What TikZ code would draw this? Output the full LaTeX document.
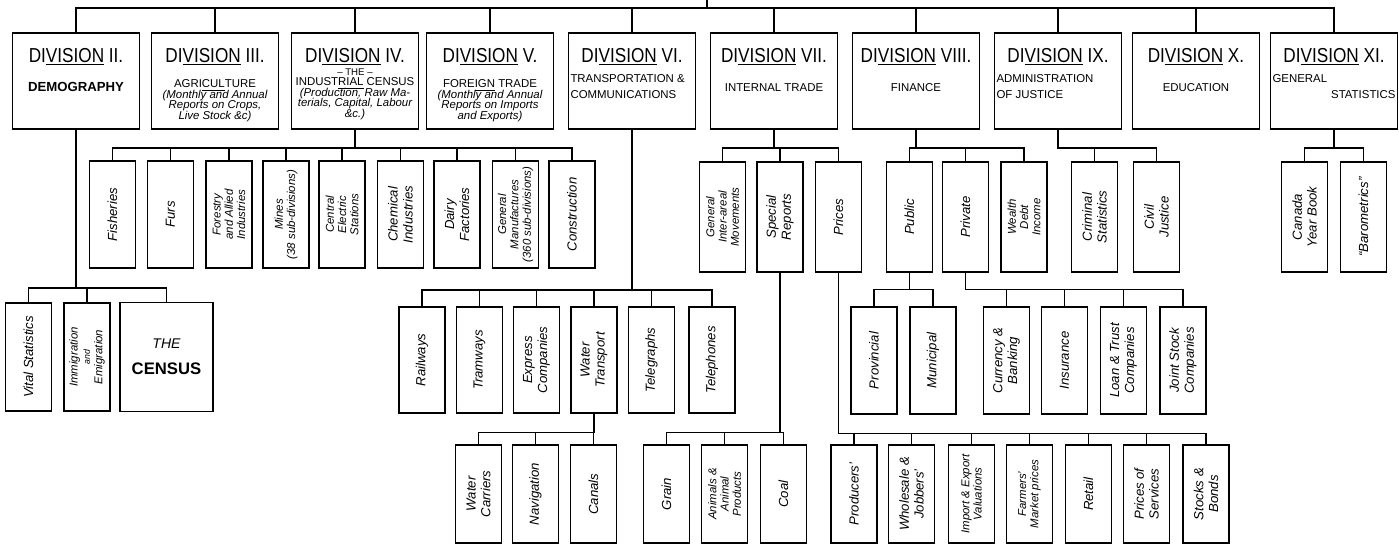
\documentclass[tikz,border=0pt]{standalone}
\usepackage{fontspec}
\setmainfont{Liberation Sans}
\newfontfamily\titlefont[FakeStretch=0.85]{Liberation Sans}
\usepackage{xcolor}

\newcommand{\divlabel}[3]{%
  \begin{minipage}[c][1.86cm][t]{2.46cm}\centering\lineskiplimit=-1cm
    \vspace*{0.27cm}{\titlefont\fontsize{11.5}{12}\selectfont DI\underline{VISION} #1\par}%
    \vspace{#2}{\fontsize{6.5}{0.21cm}\selectfont #3\par}%
  \end{minipage}}

\begin{document}
\begin{tikzpicture}[x=0.02cm, y=-0.02cm,
  division/.style={draw, line width=1pt, minimum width=2.54cm, minimum height=1.92cm, inner sep=0pt},
  sub/.style={draw, line width=0.9pt, rotate=90, minimum width=#1, minimum height=0.92cm, inner sep=1pt, align=center,
    font=\itshape\fontsize{7.5}{8.5}\selectfont},
  sub/.default=2.2cm,
  dense/.style={font=\itshape\fontsize{6.5}{7}\selectfont},
  link/.style={line width=0.8pt}
]
  \useasboundingbox (0,0) rectangle (1399,545);

  \node[division] (d2) at (76,81) {\divlabel{II.}{0.37cm}{\textbf{\fontsize{7.5}{0.21cm}\selectfont DEMOGRAPHY}}};
  \node[division] (d3) at (215,81) {\divlabel{III.}{0.3cm}{AGRI\underline{CUL}TURE\\{\itshape (Monthly and Annual\\Reports on Crops,\\Live Stock \&c)}}};
  \node[division] (d4) at (355,81) {\divlabel{IV.}{0.05cm}{{\fontsize{5.5}{0.21cm}\selectfont -- THE --}\\INDUST\underline{RIAL} CENSUS\\{\itshape (Production, Raw Ma-\\terials, Capital, Labour\\\&c.)}}};
  \node[division] (d5) at (490,81) {\divlabel{V.}{0.3cm}{FORE\underline{IGN} TRADE\\{\itshape (Monthly and Annual\\Reports on Imports\\and Exports)}}};
  \node[division] (d6) at (632,81) {\divlabel{VI.}{0.2cm}{\raggedright TRANSPORTATION \&\\[0.1cm]COMMUNICATIONS\par}};
  \node[division] (d7) at (774,81) {\divlabel{VII.}{0.37cm}{INTERNAL TRADE}};
  \node[division] (d8) at (916,81) {\divlabel{VIII.}{0.37cm}{FINANCE}};
  \node[division] (d9) at (1058,81) {\divlabel{IX.}{0.2cm}{\raggedright ADMINISTRATION\\[0.1cm]OF JUSTICE\par}};
  \node[division] (d10) at (1196,81) {\divlabel{X.}{0.37cm}{EDUCATION}};
  \node[division] (d11) at (1334,81) {\divlabel{XI.}{0.2cm}{\raggedright GENERAL\\[0.1cm]\hspace*{\fill}STATISTICS\par}};

  \node[sub=2.14cm] (fish) at (112.5,214.5) {Fisheries};
  \node[sub=2.14cm] (furs) at (170.5,214.5) {Furs};
  \node[sub=2.14cm, dense] (forest) at (229,214.5) {Forestry\\and Allied\\Industries};
  \node[sub=2.14cm, dense] (mines) at (286,214.5) {Mines\\(38 sub-divisions)};
  \node[sub=2.14cm, dense] (elec) at (342,214.5) {Central\\Electric\\Stations};
  \node[sub=2.14cm] (chem) at (400.5,214.5) {Chemical\\Industries};
  \node[sub=2.14cm] (dairy) at (457,214.5) {Dairy\\Factories};
  \node[sub=2.14cm, dense] (manuf) at (515.5,214.5) {General\\Manufactures\\(360 sub-divisions)};
  \node[sub=2.14cm] (constr) at (572,214.5) {Construction};

  \node[sub, dense] (inter) at (722.5,217) {General\\Inter-areal\\Movements};
  \node[sub] (special) at (780,217) {Special\\Reports};
  \node[sub] (prices) at (838.5,217) {Prices};
  \node[sub] (public) at (909.5,217) {Public};
  \node[sub] (private) at (965.5,217) {Private};
  \node[sub, dense] (wealth) at (1024,217) {Wealth\\Debt\\Income};
  \node[sub] (crim) at (1094.5,217) {Criminal\\Statistics};
  \node[sub] (civil) at (1156.5,217) {Civil\\Justice};
  \node[sub] (yearbook) at (1304.5,217) {Canada\\Year Book};
  \node[sub] (barom) at (1363.5,217) {``Barometrics''};

  \node[sub=2.16cm] (vital) at (28.5,357) {Vital Statistics};
  \node[sub=2.16cm, dense] (immig) at (87,357) {Immigration\\{\fontsize{5}{5}\selectfont and}\\Emigration};
  \node[draw, line width=0.9pt, minimum width=1.86cm, minimum height=2.18cm, align=center] (census) at (166.5,357)
    {{\itshape\fontsize{8}{9}\selectfont THE}\\[3pt]{\bfseries\fontsize{9.5}{11}\selectfont CENSUS}};

  \node[sub=2.12cm] (rail) at (422,360) {Railways};
  \node[sub=2.12cm] (tram) at (479.5,360) {Tramways};
  \node[sub=2.12cm] (express) at (536.5,360) {Express\\Companies};
  \node[sub=2.12cm] (water) at (594,360) {Water\\Transport};
  \node[sub=2.12cm] (telegr) at (651.5,360) {Telegraphs};
  \node[sub=2.12cm] (teleph) at (712,360) {Telephones};

  \node[sub=2.14cm] (prov) at (874,360.5) {Provincial};
  \node[sub=2.14cm] (munic) at (933,360.5) {Municipal};
  \node[sub=2.14cm] (curr) at (1006.5,360.5) {Currency \&\\Banking};
  \node[sub=2.14cm] (insur) at (1064.5,360.5) {Insurance};
  \node[sub=2.14cm] (loan) at (1123.5,360.5) {Loan \& Trust\\Companies};
  \node[sub=2.14cm] (joint) at (1183,360.5) {Joint Stock\\Companies};

  \node[sub=1.96cm] (carriers) at (478.5,494) {Water\\Carriers};
  \node[sub=1.96cm] (navig) at (535.5,494) {Navigation};
  \node[sub=1.96cm] (canals) at (593.5,494) {Canals};
  \node[sub=1.96cm] (grain) at (666.5,494) {Grain};
  \node[sub=1.96cm, dense] (animals) at (724.5,494) {Animals \&\\Animal\\Products};
  \node[sub=1.96cm] (coal) at (783.5,494) {Coal};
  \node[sub=1.96cm] (prod) at (854,494) {Producers'};
  \node[sub=1.96cm] (whole) at (911.5,494) {Wholesale \&\\Jobbers'};
  \node[sub=1.96cm, dense] (impexp) at (971.5,494) {Import \& Export\\Valuations};
  \node[sub=1.96cm, dense] (farm) at (1029.5,494) {Farmers'\\Market prices};
  \node[sub=1.96cm] (retail) at (1088.5,494) {Retail};
  \node[sub=1.96cm] (services) at (1146.5,494) {Prices of\\Services};
  \node[sub=1.96cm] (stocks) at (1206,494) {Stocks \&\\Bonds};

  \coordinate (root) at (707,0);
  \foreach \s in {d2,d3,d4,d5,d6,d7,d8,d9,d10,d11}
    \draw[link] (root) -- ++(0,8) -| (\s.north);

  \foreach \s in {vital,immig}
    \draw[link] (d2.south) -- ++(0,158) -| (\s.east);
  \draw[link] (d2.south) -- ++(0,158) -| (census.north);
  \foreach \s in {fish,furs,forest,mines,elec,chem,dairy,manuf,constr}
    \draw[link] (d4.south) -- ++(0,18) -| (\s.east);
  \foreach \s in {rail,tram,express,water,telegr,teleph}
    \draw[link] (d6.south) -- ++(0,160) -| (\s.east);
  \foreach \s in {inter,special,prices}
    \draw[link] (d7.south) -- ++(0,18) -| (\s.east);
  \foreach \s in {public,private,wealth}
    \draw[link] (d8.south) -- ++(0,18) -| (\s.east);
  \foreach \s in {crim,civil}
    \draw[link] (d9.south) -- ++(0,18) -| (\s.east);
  \foreach \s in {yearbook,barom}
    \draw[link] (d11.south) -- ++(0,18) -| (\s.east);

  \foreach \s in {prov,munic}
    \draw[link] (public.west) -- ++(0,17) -| (\s.east);
  \foreach \s in {curr,insur,loan,joint}
    \draw[link] (private.west) -- ++(0,17) -| (\s.east);
  \foreach \s in {carriers,navig,canals}
    \draw[link] (water.west) -- ++(0,19) -| (\s.east);
  \foreach \s in {grain,animals,coal}
    \draw[link] (special.west) -- ++(0,160) -| (\s.east);
  \foreach \s in {prod,whole,impexp,farm,retail,services,stocks}
    \draw[link] (prices.west) -- ++(0,161) -| (\s.east);
\end{tikzpicture}
\end{document}
